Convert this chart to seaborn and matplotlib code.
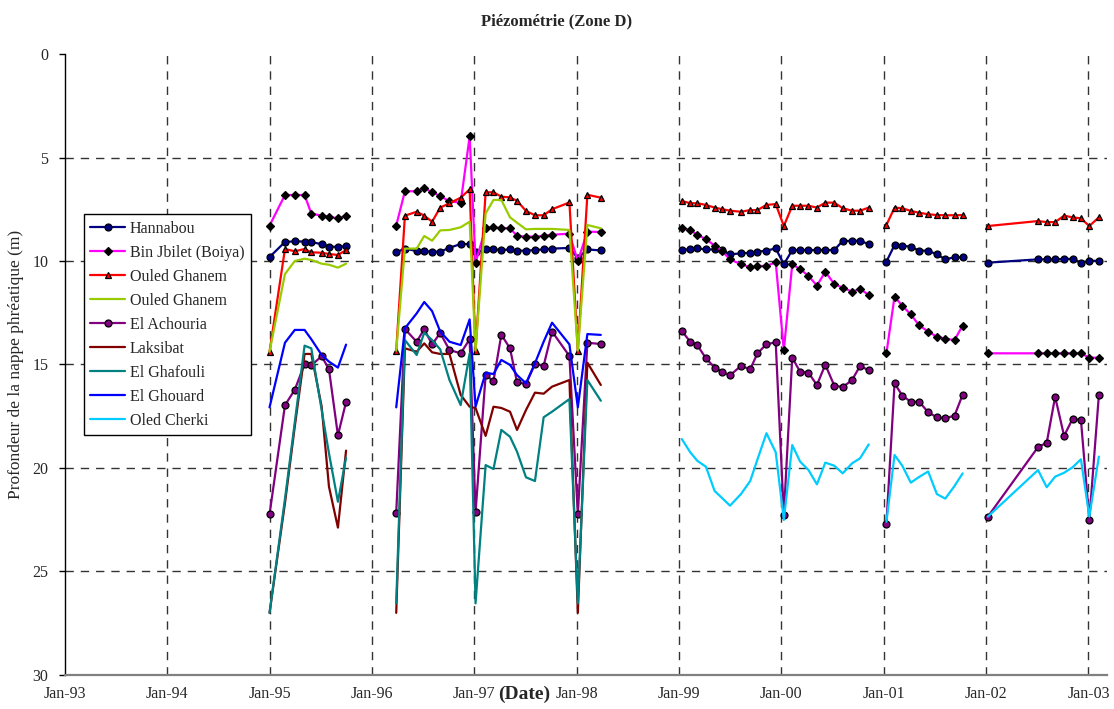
import numpy as np
import pandas as pd
import matplotlib
matplotlib.use("Agg")
import matplotlib.pyplot as plt
import matplotlib.dates as mdates
from matplotlib.lines import Line2D
import seaborn as sns

# Measurement campaigns (each block is drawn as a separate, unconnected run)
dates_1995 = ["1995-01-01", "1995-02-25", "1995-04-01", "1995-05-06", "1995-05-30",
              "1995-07-06", "1995-08-01", "1995-09-02", "1995-10-01"]
dates_1996_98 = ["1996-03-28", "1996-04-28", "1996-06-09", "1996-07-06", "1996-08-03",
                 "1996-09-01", "1996-10-04", "1996-11-13", "1996-12-15", "1997-01-05",
                 "1997-02-10", "1997-03-10", "1997-04-07", "1997-05-08", "1997-06-02",
                 "1997-07-04", "1997-08-05", "1997-09-05", "1997-10-05", "1997-12-06",
                 "1998-01-05", "1998-02-08", "1998-03-28"]
dates_1999_00 = ["1999-01-11", "1999-02-10", "1999-03-07", "1999-04-07", "1999-05-08",
                 "1999-06-02", "1999-07-02", "1999-08-10", "1999-09-12", "1999-10-08",
                 "1999-11-09", "1999-12-12", "2000-01-10", "2000-02-09", "2000-03-08",
                 "2000-04-07", "2000-05-07", "2000-06-06", "2000-07-08", "2000-08-07",
                 "2000-09-09", "2000-10-08", "2000-11-08"]
dates_2001 = ["2001-01-10", "2001-02-08", "2001-03-08", "2001-04-07", "2001-05-07",
              "2001-06-08", "2001-07-09", "2001-08-08", "2001-09-10", "2001-10-09"]
dates_2002_03 = ["2002-01-07", "2002-07-05", "2002-08-05", "2002-09-04", "2002-10-06",
                 "2002-11-05", "2002-12-05", "2003-01-04", "2003-02-07"]

campaigns = [dates_1995, dates_1996_98, dates_1999_00, dates_2001, dates_2002_03]

N = np.nan
# Depth to water table (m), one value per date, campaigns in the order above
hannabou = [9.81, 9.08, 9.05, 9.06, 9.08, 9.19, 9.30, 9.32, 9.28,
            9.58, 9.40, 9.52, 9.52, 9.55, 9.55, 9.36, 9.18, 9.18, 9.58, 9.44, 9.44,
            9.47, 9.44, 9.50, 9.50, 9.47, 9.44, 9.40, 9.37, 9.86, 9.44, 9.49,
            9.45, 9.44, 9.39, 9.44, 9.44, 9.47, 9.68, 9.63, 9.60, 9.55, 9.50, 9.39,
            10.16, 9.47, 9.47, 9.47, 9.47, 9.47, 9.47, 9.03, 9.03, 9.02, 9.19,
            10.03, 9.23, 9.26, 9.31, 9.50, 9.50, 9.68, 9.92, 9.82, 9.82,
            10.08, 9.92, 9.92, 9.92, 9.90, 9.90, 10.08, 9.99, 9.99]
bin_jbilet = [8.29, 6.81, 6.81, 6.81, 7.71, 7.81, 7.86, 7.94, 7.81,
              8.29, 6.63, 6.63, 6.49, 6.67, 6.86, 7.12, 7.18, 3.98, 10.08, 8.41, 8.37,
              8.41, 8.41, 8.79, 8.82, 8.82, 8.78, 8.73, 8.68, 10.01, 8.58, 8.60,
              8.42, 8.50, 8.74, 8.94, 9.26, 9.50, 9.92, 10.16, 10.30, 10.24, 10.24, 10.06,
              14.30, 10.16, 10.39, 10.72, 11.19, 10.52, 11.11, 11.29, 11.48, 11.35, 11.64,
              14.46, 11.72, 12.17, 12.58, 13.11, 13.41, 13.66, 13.75, 13.82, 13.12,
              14.46, 14.46, 14.46, 14.46, 14.46, 14.46, 14.46, 14.67, 14.67]
ouled_ghanem_1 = [14.38, 9.42, 9.53, 9.42, 9.58, 9.60, 9.66, 9.71, 9.47,
                  14.33, 7.81, 7.62, 7.81, 8.10, 7.42, 7.21, 6.94, 6.54, 14.33, 6.68, 6.68,
                  6.89, 6.93, 7.09, 7.58, 7.79, 7.79, 7.50, 7.17, 14.33, 6.80, 6.94,
                  7.10, 7.21, 7.21, 7.29, 7.42, 7.49, 7.57, 7.62, 7.54, 7.54, 7.29, 7.25,
                  8.31, 7.33, 7.33, 7.33, 7.42, 7.18, 7.18, 7.45, 7.57, 7.57, 7.42,
                  8.26, 7.42, 7.45, 7.58, 7.67, 7.74, 7.78, 7.79, 7.79, 7.78,
                  8.31, 8.07, 8.12, 8.12, 7.81, 7.89, 7.94, 8.31, 7.89]
ouled_ghanem_2 = [14.38, 10.63, 10.00, 9.89, 9.95, 10.13, 10.18, 10.32, 10.13,
                  14.33, 9.40, 9.40, 8.79, 9.02, 8.52, 8.50, 8.37, 8.10, 14.33, 7.70, 7.05,
                  7.05, 7.89, 8.15, 8.47, 8.45, 8.45, 8.45, 8.50, 14.33, 8.26, 8.42] + [N] * 42
el_achouria = [22.24, 16.97, 16.22, 14.98, 15.04, 14.60, 15.23, 18.42, 16.81,
               22.16, 13.29, 13.90, 13.29, 14.03, 13.48, 14.30, 14.46, 13.78, 22.14, 15.52, 15.80,
               13.56, 14.22, 15.86, 15.94, 14.98, 15.06, 13.41, 14.59, 22.24, 13.95, 14.01,
               13.38, 13.90, 14.06, 14.70, 15.15, 15.35, 15.52, 15.07, 15.23, 14.46, 14.02, 13.93,
               22.27, 14.67, 15.35, 15.40, 15.99, 15.01, 16.02, 16.09, 15.76, 15.07, 15.28,
               22.71, 15.91, 16.51, 16.80, 16.80, 17.31, 17.55, 17.60, 17.47, 16.46,
               22.35, 18.99, 18.78, 16.56, 18.45, 17.63, 17.67, 22.51, 16.49]
laksibat = [27.00, 21.70, 18.00, 14.49, 14.49, 17.04, 20.90, 22.88, 19.16,
            27.00, 14.22, 14.38, 13.98, 14.41, 14.49, 14.49, 16.47, 17.04, 17.10, 18.45, 17.04,
            17.10, 17.28, 18.16, 17.20, 16.36, 16.41, 16.07, 15.75, 27.00, 14.91, 15.99] + [N] * 42
el_ghafouli = [27.00, 21.50, 17.80, 14.09, 14.22, 17.20, 19.29, 21.63, 19.50,
               26.54, 13.82, 14.54, 13.46, 13.82, 14.27, 15.75, 16.96, 14.46, 26.54, 19.86, 20.05,
               18.16, 18.49, 19.21, 20.45, 20.63, 17.55, 17.28, 16.67, 26.54, 15.75, 16.75] + [N] * 42
el_ghouard = [17.07, 13.95, 13.33, 13.33, 13.78, 14.54, 14.86, 15.15, 14.04,
              17.07, 13.25, 12.53, 11.98, 12.42, 13.41, 13.90, 14.06, 12.82, 17.04, 15.40, 15.46,
              14.78, 15.02, 15.51, 15.91, 14.94, 13.90, 12.98, 14.03, 17.07, 13.53, 13.57] + [N] * 42
oled_cherki = [N] * 32 + [
    18.60, 19.24, 19.65, 19.94, 21.11, 21.43, 21.82, 21.26, 20.63, 19.58, 18.32, 19.24,
    22.51, 18.89, 19.69, 20.10, 20.79, 19.74, 19.89, 20.26, 19.78, 19.53, 18.86,
    22.60, 19.37, 19.90, 20.71, 20.43, 20.17, 21.26, 21.48, 20.87, 20.26,
    22.35, 20.10, 20.93, 20.42, 20.23, 19.97, 19.58, 22.35, 19.45]

stations = ["Hannabou", "Bin Jbilet (Boiya)", "Ouled Ghanem", "Ouled Ghanem",
            "El Achouria", "Laksibat", "El Ghafouli", "El Ghouard", "Oled Cherki"]
series = [hannabou, bin_jbilet, ouled_ghanem_1, ouled_ghanem_2, el_achouria,
          laksibat, el_ghafouli, el_ghouard, oled_cherki]

# Line colour, marker, marker face colour, marker size
styles = [
    ("#000080", "o", "#000080", 5.0),
    ("#FF00FF", "D", "black", 3.8),
    ("#FF0000", "^", "#FF0000", 4.8),
    ("#99CC00", None, None, 0),
    ("#800080", "o", "#800080", 5.0),
    ("#800000", None, None, 0),
    ("#008080", None, None, 0),
    ("#0000FF", None, None, 0),
    ("#00CCFF", None, None, 0),
]

all_dates = pd.to_datetime([d for block in campaigns for d in block])
campaign_id = np.concatenate([[i] * len(block) for i, block in enumerate(campaigns)])

sns.set_theme(style="white")
plt.rcParams["font.family"] = ["Liberation Serif", "DejaVu Serif"]

fig = plt.figure(figsize=(11.14, 7.09), dpi=100)
ax = fig.add_axes([0.0583, 0.048, 0.9354, 0.8758])

# Reference grid: dashed lines at each year and every 5 m
for yr in range(1994, 2004):
    ax.axvline(pd.Timestamp(f"{yr}-01-01"), color="#333333", lw=1.0,
               ls=(0, (6, 5)), zorder=0)
for yv in [5, 10, 15, 20, 25]:
    ax.axhline(yv, color="#333333", lw=1.0, ls=(0, (6, 5)), zorder=0)

handles = []
for k, (name, vals, (col, mk, mfc, ms)) in enumerate(zip(stations, series, styles)):
    df = pd.DataFrame({"date": all_dates, "depth": vals, "campaign": campaign_id}).dropna()
    kws = dict(color=col, lw=1.6, zorder=2 + k * 0.1)
    if mk is not None:
        kws.update(marker=mk, markersize=ms, markerfacecolor=mfc,
                   markeredgecolor="black", markeredgewidth=0.9)
    sns.lineplot(data=df, x="date", y="depth", units="campaign", estimator=None,
                 sort=False, ax=ax, legend=False, **kws)
    handles.append(Line2D([], [], color=col, lw=1.6, marker=mk if mk else None,
                          markersize=ms, markerfacecolor=mfc, markeredgecolor="black",
                          markeredgewidth=0.9))

ax.set_ylim(30, 0)
ax.set_yticks([0, 5, 10, 15, 20, 25, 30])
ax.set_xlim(pd.Timestamp("1993-01-01"), pd.Timestamp("2003-03-08"))
ax.xaxis.set_major_locator(mdates.YearLocator(1, month=1, day=1))
ax.xaxis.set_major_formatter(mdates.DateFormatter("%b-%y"))
ax.tick_params(axis="x", direction="in", length=5, pad=8, labelsize=11.5,
               color="#808080", width=1)
ax.tick_params(axis="y", direction="out", length=4, pad=8, labelsize=11.5,
               color="black", width=1, left=True)

ax.set_xlabel("")
ax.set_ylabel("Profondeur de la nappe phréatique (m)", fontsize=12.5, labelpad=6)
ax.text(0.4405, -0.0305, "(Date)", transform=ax.transAxes, ha="center", va="center",
        fontsize=14, fontweight="bold")
fig.text(0.5, 0.970, "Piézométrie (Zone D)", ha="center", va="center",
         fontsize=12, fontweight="bold")

for side in ["top", "right"]:
    ax.spines[side].set_visible(False)
ax.spines["left"].set_color("black")
ax.spines["left"].set_linewidth(1.0)
ax.spines["bottom"].set_color("#808080")
ax.spines["bottom"].set_linewidth(1.6)

leg = ax.legend(handles, stations, loc="upper left", bbox_to_anchor=(0.018, 0.742),
                fontsize=11.5, frameon=True, fancybox=False, framealpha=1,
                edgecolor="black", handlelength=2.2, labelspacing=0.5,
                borderpad=0.4, handletextpad=0.3, borderaxespad=0)
leg.get_frame().set_linewidth(1.0)
leg.set_zorder(10)

fig.savefig("out.png", dpi=100, facecolor="white")
